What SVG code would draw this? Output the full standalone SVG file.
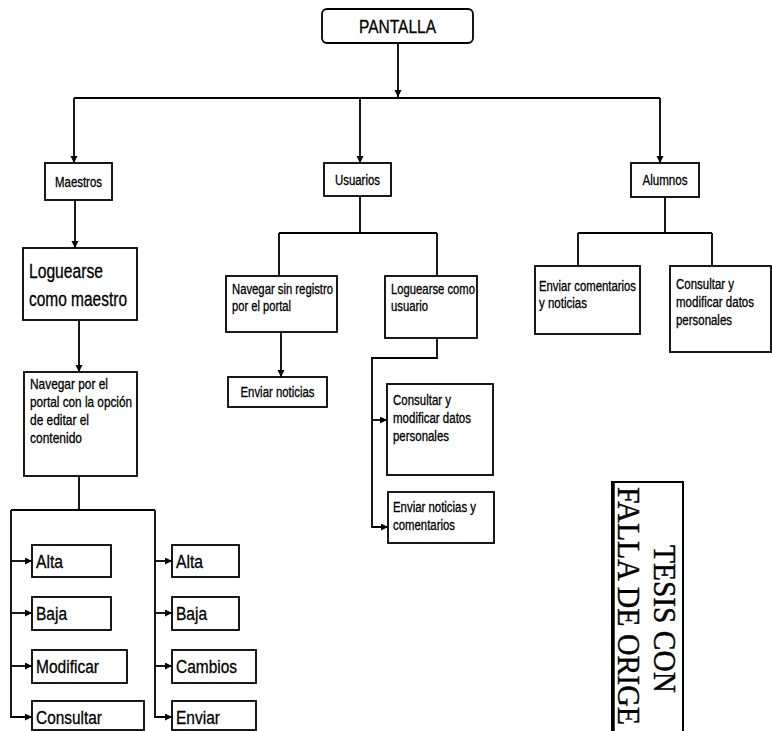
<svg xmlns="http://www.w3.org/2000/svg" width="772" height="731" viewBox="0 0 772 731">
  <defs>
    <marker id="arrow" markerUnits="userSpaceOnUse" markerWidth="8" markerHeight="8" refX="7" refY="3.5" orient="auto">
      <path d="M0,0 L7,3.5 L0,7 z" fill="#000"/>
    </marker>
  </defs>
  <style>
    .box { fill: #fff; stroke: #000; stroke-width: 1.8; }
    .ln { fill: none; stroke: #000; stroke-width: 1.8; }
    .arr { fill: none; stroke: #000; stroke-width: 1.8; marker-end: url(#arrow); }
    text { font-family: "Liberation Sans", Arial, sans-serif; fill: #000; stroke: #000; stroke-width: 0.3; }
    .s { font-size: 14px; }
    .m { font-size: 14.5px; }
    .b { font-size: 19px; }
    .c { text-anchor: middle; }
    .stamp { font-family: "Liberation Serif", "Times New Roman", serif; font-size: 31px; fill: #000; stroke-width: 0.4; }
  </style>

  <rect width="772" height="731" fill="#fff"/>

  <!-- connectors -->
  <g id="connectors">
    <path class="arr" d="M398,43 V97"/>
    <path class="ln" d="M74,98 H660"/>
    <path class="arr" d="M74,98 V163"/>
    <path class="arr" d="M360,98 V163"/>
    <path class="arr" d="M660,98 V163"/>

    <!-- Maestros branch -->
    <path class="arr" d="M75,200 V248"/>
    <path class="arr" d="M79,320 V372"/>
    <path class="ln" d="M79,476 V510 M11,510 H155"/>
    <path class="arr" d="M11,510 V717 H32"/>
    <path class="arr" d="M11,561 H32"/>
    <path class="arr" d="M11,613 H32"/>
    <path class="arr" d="M11,666 H32"/>
    <path class="arr" d="M155,510 V717 H172"/>
    <path class="arr" d="M155,561 H172"/>
    <path class="arr" d="M155,613 H172"/>
    <path class="arr" d="M155,666 H172"/>

    <!-- Usuarios branch -->
    <path class="ln" d="M360,196 V233 M279,233 H437 M279,233 V276 M437,233 V276"/>
    <path class="arr" d="M281,332 V377"/>
    <path class="arr" d="M437,338 V358 H372 V527 H388"/>
    <path class="arr" d="M372,420 H387"/>

    <!-- Alumnos branch -->
    <path class="ln" d="M665,197 V233 M578,233 H712 M578,233 V266 M712,233 V266"/>
  </g>

  <g id="pantalla">
    <rect class="box" x="322" y="9" width="151" height="34" rx="5"/>
    <text class="c" x="397.5" y="33" style="font-size:19px" textLength="77" lengthAdjust="spacingAndGlyphs">PANTALLA</text>
  </g>

  <g id="maestros">
    <rect class="box" x="45" y="163" width="67" height="37"/>
    <text class="s c" x="78.5" y="187" textLength="47" lengthAdjust="spacingAndGlyphs">Maestros</text>
  </g>
  <g id="usuarios">
    <rect class="box" x="324" y="163" width="67" height="33"/>
    <text class="s c" x="357.5" y="184.5" textLength="45" lengthAdjust="spacingAndGlyphs">Usuarios</text>
  </g>
  <g id="alumnos">
    <rect class="box" x="631" y="163" width="68" height="34"/>
    <text class="s c" x="665" y="185" textLength="45" lengthAdjust="spacingAndGlyphs">Alumnos</text>
  </g>

  <g id="loguearse-maestro">
    <rect class="box" x="23" y="248" width="114" height="72"/>
    <text style="font-size:20px" x="29" y="278" textLength="74" lengthAdjust="spacingAndGlyphs">Loguearse</text>
    <text style="font-size:20px" x="29" y="306" textLength="98" lengthAdjust="spacingAndGlyphs">como maestro</text>
  </g>
  <g id="navegar-editar">
    <rect class="box" x="24" y="372" width="113" height="104"/>
    <text class="m" x="30" y="389" textLength="78" lengthAdjust="spacingAndGlyphs">Navegar por el</text>
    <text class="m" x="30" y="407" textLength="102" lengthAdjust="spacingAndGlyphs">portal con la opción</text>
    <text class="m" x="30" y="425" textLength="59" lengthAdjust="spacingAndGlyphs">de editar el</text>
    <text class="m" x="30" y="443" textLength="52" lengthAdjust="spacingAndGlyphs">contenido</text>
  </g>

  <g id="alta-1">
    <rect class="box" x="32" y="545" width="79" height="32"/>
    <text class="b" x="36" y="568" textLength="27" lengthAdjust="spacingAndGlyphs">Alta</text>
  </g>
  <g id="baja-1">
    <rect class="box" x="32" y="597" width="79" height="33"/>
    <text class="b" x="36" y="620" textLength="31" lengthAdjust="spacingAndGlyphs">Baja</text>
  </g>
  <g id="modificar">
    <rect class="box" x="32" y="650" width="95" height="33"/>
    <text class="b" x="36" y="673" textLength="63" lengthAdjust="spacingAndGlyphs">Modificar</text>
  </g>
  <g id="consultar">
    <rect class="box" x="32" y="701" width="112" height="29"/>
    <text class="b" x="36" y="724" textLength="66" lengthAdjust="spacingAndGlyphs">Consultar</text>
  </g>

  <g id="alta-2">
    <rect class="box" x="172" y="545" width="67" height="32"/>
    <text class="b" x="176" y="568" textLength="27" lengthAdjust="spacingAndGlyphs">Alta</text>
  </g>
  <g id="baja-2">
    <rect class="box" x="172" y="597" width="67" height="33"/>
    <text class="b" x="176" y="620" textLength="31" lengthAdjust="spacingAndGlyphs">Baja</text>
  </g>
  <g id="cambios">
    <rect class="box" x="172" y="650" width="84" height="33"/>
    <text class="b" x="176" y="673" textLength="61" lengthAdjust="spacingAndGlyphs">Cambios</text>
  </g>
  <g id="enviar">
    <rect class="box" x="172" y="701" width="84" height="29"/>
    <text class="b" x="176" y="724" textLength="44" lengthAdjust="spacingAndGlyphs">Enviar</text>
  </g>

  <g id="navegar-sin-registro">
    <rect class="box" x="226" y="276" width="111" height="56"/>
    <text class="s" x="232" y="294" textLength="101" lengthAdjust="spacingAndGlyphs">Navegar sin registro</text>
    <text class="s" x="232" y="311" textLength="59" lengthAdjust="spacingAndGlyphs">por el portal</text>
  </g>
  <g id="loguearse-usuario">
    <rect class="box" x="385" y="276" width="92" height="62"/>
    <text class="s" x="391" y="294" textLength="84" lengthAdjust="spacingAndGlyphs">Loguearse como</text>
    <text class="s" x="391" y="311" textLength="37" lengthAdjust="spacingAndGlyphs">usuario</text>
  </g>
  <g id="enviar-noticias">
    <rect class="box" x="228" y="377" width="99" height="30"/>
    <text class="s c" x="277.5" y="397" textLength="74" lengthAdjust="spacingAndGlyphs">Enviar noticias</text>
  </g>
  <g id="consultar-datos-usuario">
    <rect class="box" x="387" y="384" width="106" height="91"/>
    <text class="s" x="393" y="405" textLength="58" lengthAdjust="spacingAndGlyphs">Consultar y</text>
    <text class="s" x="393" y="423" textLength="78" lengthAdjust="spacingAndGlyphs">modificar datos</text>
    <text class="s" x="393" y="441" textLength="56" lengthAdjust="spacingAndGlyphs">personales</text>
  </g>
  <g id="enviar-noticias-comentarios">
    <rect class="box" x="388" y="492" width="106" height="51"/>
    <text class="s" x="393" y="512" textLength="83" lengthAdjust="spacingAndGlyphs">Enviar noticias y</text>
    <text class="s" x="393" y="530" textLength="62" lengthAdjust="spacingAndGlyphs">comentarios</text>
  </g>

  <g id="enviar-comentarios">
    <rect class="box" x="535" y="266" width="105" height="68"/>
    <text class="s" x="539" y="291" textLength="97" lengthAdjust="spacingAndGlyphs">Enviar comentarios</text>
    <text class="s" x="539" y="308" textLength="48" lengthAdjust="spacingAndGlyphs">y noticias</text>
  </g>
  <g id="consultar-datos-alumno">
    <rect class="box" x="670" y="266" width="101" height="86"/>
    <text class="s" x="676" y="289" textLength="58" lengthAdjust="spacingAndGlyphs">Consultar y</text>
    <text class="s" x="676" y="307" textLength="78" lengthAdjust="spacingAndGlyphs">modificar datos</text>
    <text class="s" x="676" y="325" textLength="56" lengthAdjust="spacingAndGlyphs">personales</text>
  </g>

  <!-- rubber stamp, set vertically -->
  <g id="stamp">
    <path d="M612,731 V482 H683 V731" fill="none" stroke="#000" stroke-width="2"/>
    <path d="M613.5,482 V731" fill="none" stroke="#000" stroke-width="2.5"/>
    <text class="stamp" transform="translate(654,545) rotate(90)" textLength="148" lengthAdjust="spacingAndGlyphs">TESIS CON</text>
    <text class="stamp" transform="translate(618,487) rotate(90)" textLength="238" lengthAdjust="spacingAndGlyphs">FALLA DE ORIGE</text>
  </g>
</svg>
